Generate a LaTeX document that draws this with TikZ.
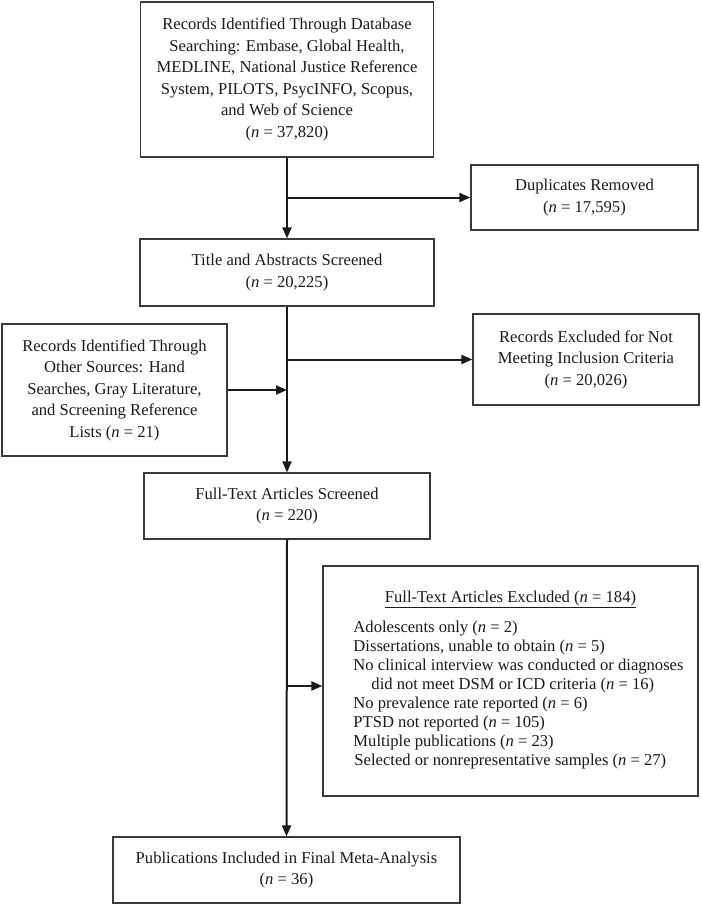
\documentclass[tikz,border=0pt]{standalone}
\usepackage{fontspec}
\setmainfont{Liberation Serif}
\usetikzlibrary{arrows.meta, calc}
\definecolor{boxline}{HTML}{3A3A3A}
\definecolor{ink}{HTML}{1A1A1A}
\newcommand{\nval}[1]{(\textit{n} = #1)}

\begin{document}
\begin{tikzpicture}[
  x=1pt, y=-1pt,
  >={Triangle[length=11pt, width=9pt]},
  box/.style={draw=boxline, line width=1.2pt, align=center, inner sep=0pt,
    text=ink, font=\fontsize{16.6}{21.5}\selectfont},
  flow/.style={->, ink, line width=2pt},
]

\useasboundingbox (0,0) rectangle (701,904);

% ══════════════════════════════════════════════════════
% Boxes
% ══════════════════════════════════════════════════════
\node[box, minimum width=293pt, minimum height=155pt] (db) at (287,79.5)
  {Records Identified Through Database\\
   Searching: Embase, Global Health,\\
   MEDLINE, National Justice Reference\\
   System, PILOTS, PsycINFO, Scopus,\\
   and Web of Science\\
   \nval{37,820}};

\node[box, minimum width=227pt, minimum height=65pt] (dup) at (584.5,197.5)
  {Duplicates Removed\\ \nval{17,595}};

\node[box, minimum width=294pt, minimum height=67pt] (screen) at (287,272.5)
  {Title and Abstracts Screened\\ \nval{20,225}};

\node[box, minimum width=226pt, minimum height=91pt] (notmet) at (586,359.5)
  {Records Excluded for Not\\
   Meeting Inclusion Criteria\\
   \nval{20,026}};

\node[box, minimum width=225pt, minimum height=132pt] (other) at (114.5,390)
  {Records Identified Through\\
   Other Sources: Hand\\
   Searches, Gray Literature,\\
   and Screening Reference\\
   Lists \nval{21}};

\node[box, minimum width=286pt, minimum height=66pt] (full) at (287,506)
  {Full-Text Articles Screened\\ \nval{220}};

\node[box, minimum width=375pt, minimum height=230pt,
  font=\fontsize{16.6}{19}\selectfont] (fullex) at (510.5,681)
  {\underline{Full-Text Articles Excluded \nval{184}}\\[10pt]
   \hspace{16pt}\begin{tabular}{@{}l@{}}
   Adolescents only \nval{2}\\
   Dissertations, unable to obtain \nval{5}\\
   No clinical interview was conducted or diagnoses\\
   \hspace{18pt}did not meet DSM or ICD criteria \nval{16}\\
   No prevalence rate reported \nval{6}\\
   PTSD not reported \nval{105}\\
   Multiple publications \nval{23}\\
   \hspace{1pt}Selected or nonrepresentative samples \nval{27}
   \end{tabular}};

\node[box, minimum width=347pt, minimum height=66pt] (incl) at (286.5,870)
  {Publications Included in Final Meta-Analysis\\ \nval{36}};

% ══════════════════════════════════════════════════════
% Connectors
% ══════════════════════════════════════════════════════
\coordinate (j1) at (db.south |- dup.west);
\coordinate (j2) at (screen.south |- notmet.west);
\coordinate (j3) at (screen.south |- other.east);
\coordinate (j4) at ($(full.south |- fullex.west)+(0,5)$);

\draw[flow] (db.south) -- (screen.north);
\draw[flow] (j1) -- (dup.west);

\draw[flow] (screen.south) -- (full.north);
\draw[flow] (j2) -- (notmet.west);
\draw[flow] (other.east) -- (j3);

\draw[flow] (full.south) -- (incl.north);
\draw[flow] (j4) -- (j4 -| fullex.west);

\end{tikzpicture}
\end{document}
